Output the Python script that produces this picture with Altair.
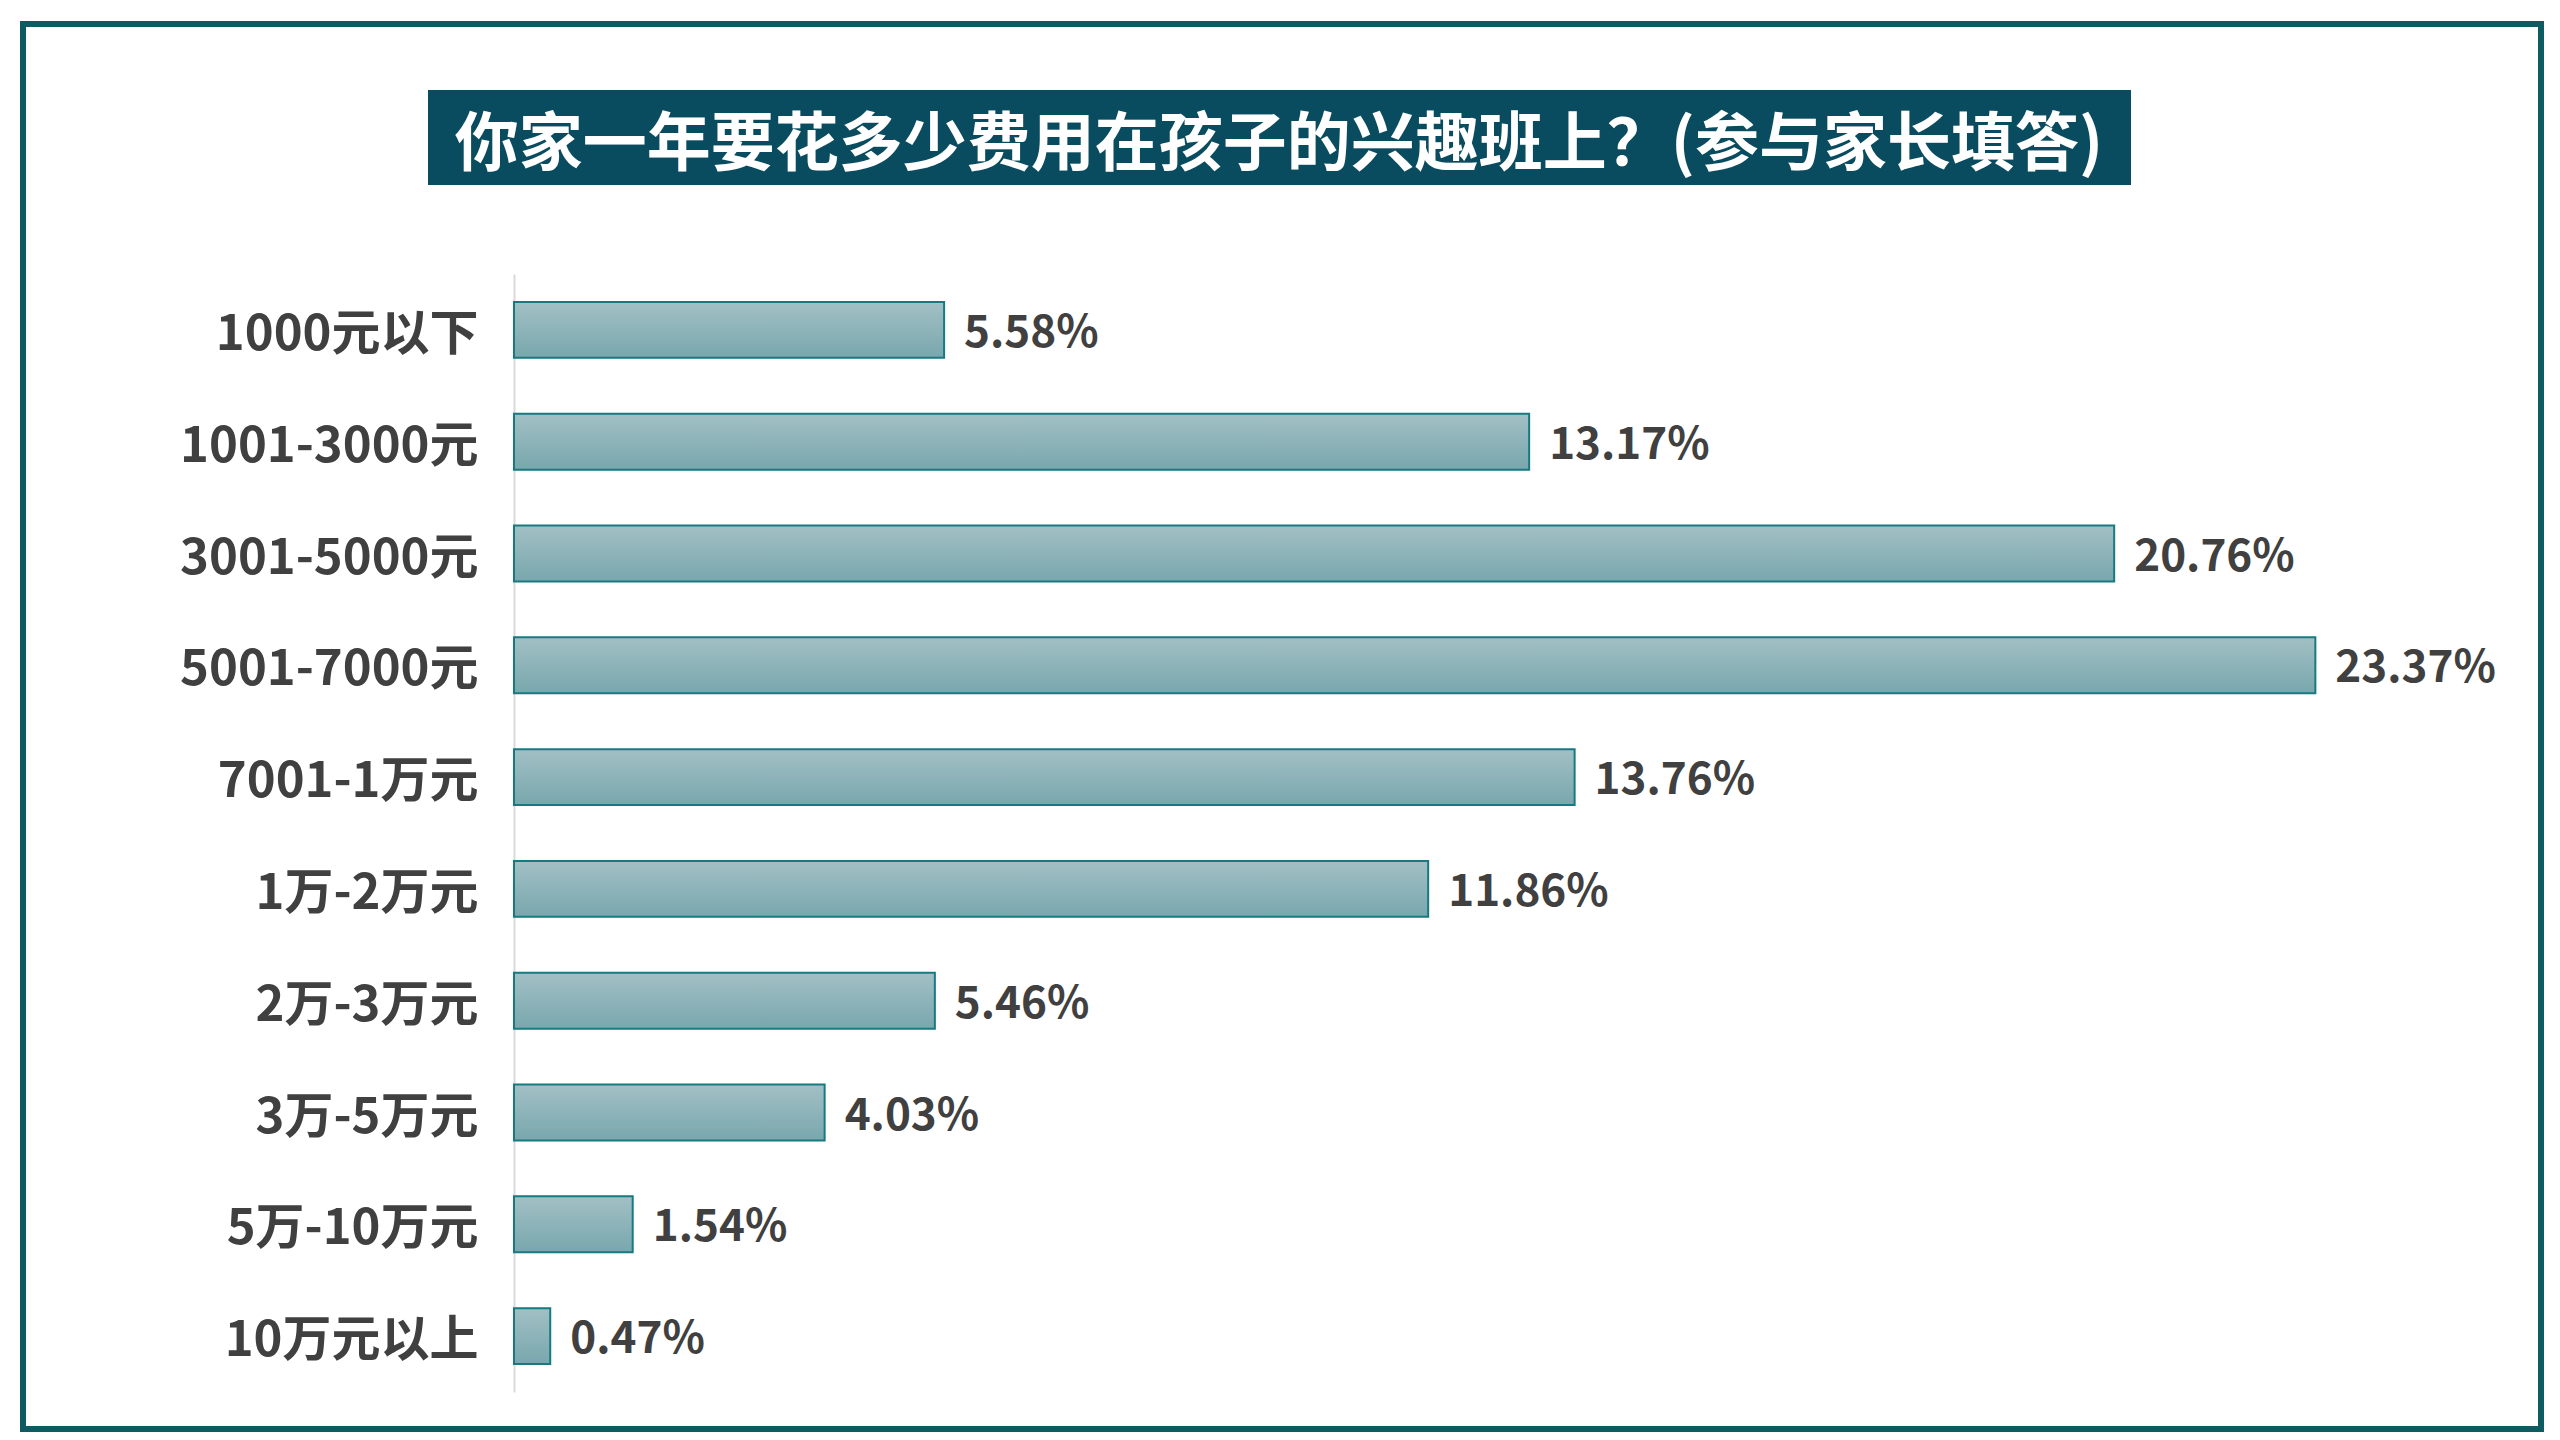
import altair as alt
import pandas as pd

categories = ["1000元以下", "1001-3000元", "3001-5000元", "5001-7000元", "7001-1万元",
              "1万-2万元", "2万-3万元", "3万-5万元", "5万-10万元", "10万元以上"]
values = [5.58, 13.17, 20.76, 23.37, 13.76, 11.86, 5.46, 4.03, 1.54, 0.47]
title_text = "你家一年要花多少费用在孩子的兴趣班上？(参与家长填答)"

df = pd.DataFrame({"cat": categories, "val": values,
                   "lbl": [f"{v:.2f}%" for v in values]})
one = pd.DataFrame({"t": [title_text]})

FONT = "Noto Sans CJK SC"
W, H = 1927, 1118

y_enc = alt.Y("cat:N", sort=categories,
              scale=alt.Scale(paddingInner=0.5, paddingOuter=0.25),
              axis=alt.Axis(title=None, ticks=False, grid=False, domainColor="#D9D9D9",
                            domainWidth=2, labelFont=FONT, labelFontSize=49,
                            labelFontWeight="bold", labelColor="#404040",
                            labelPadding=36, labelLimit=0, labelOffset=5))
x_enc = alt.X("val:Q", scale=alt.Scale(domain=[0, 25], nice=False), axis=None)

grad = alt.Gradient(gradient="linear", x1=0, x2=0, y1=0, y2=1,
                    stops=[alt.GradientStop(color="#A2C0C5", offset=0),
                           alt.GradientStop(color="#78A7AD", offset=1)])

bars = alt.Chart(df).mark_bar(fill=grad, stroke="#167A80", strokeWidth=2).encode(
    x=x_enc, y=y_enc)

labels = alt.Chart(df).mark_text(align="left", baseline="middle", dx=20, dy=4, font=FONT,
                                 fontSize=44, fontWeight="bold", color="#404040").encode(
    x=x_enc, y=y_enc, text="lbl:N")

frame = alt.Chart(one).mark_rect(fill=None, stroke="#0E5B62", strokeWidth=6).encode(
    x=alt.value(-491), x2=alt.value(2027), y=alt.value(-250), y2=alt.value(1155))

title_box = alt.Chart(one).mark_rect(fill="#0A4C5F").encode(
    x=alt.value(-86), x2=alt.value(1617), y=alt.value(-184), y2=alt.value(-89))

title = alt.Chart(one).mark_text(align="center", baseline="middle", font=FONT,
                                 fontSize=64, fontWeight="bold", color="white").encode(
    x=alt.value(765), y=alt.value(-128), text="t:N")

chart = alt.layer(frame, title_box, title, bars, labels).properties(
    width=W, height=H,
    autosize=alt.AutoSizeParams(type="none"),
    padding={"left": 506, "top": 266, "right": 111, "bottom": 40},
    background="white",
).configure_view(strokeWidth=0)

chart.save("out.html", embed_options={"renderer": "svg", "actions": False})
